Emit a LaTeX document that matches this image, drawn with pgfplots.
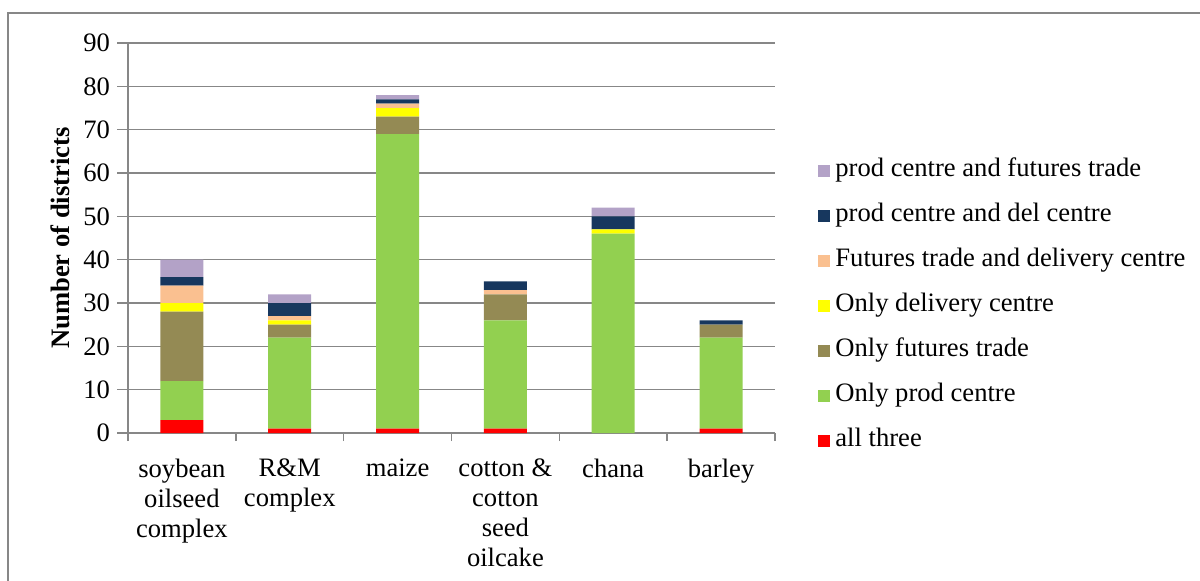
\documentclass[border=0pt]{standalone}
\usepackage{fontspec}
\setmainfont{Liberation Serif}
\usepackage{pgfplots}
\usepackage{pgfplotstable}
\pgfplotsset{compat=1.18}

\definecolor{cAll}{HTML}{FF0000}
\definecolor{cProd}{HTML}{92D050}
\definecolor{cFut}{HTML}{948A54}
\definecolor{cDel}{HTML}{FFFF00}
\definecolor{cFutDel}{HTML}{FAC090}
\definecolor{cProdDel}{HTML}{17375E}
\definecolor{cProdFut}{HTML}{B3A2C7}
\definecolor{frame}{HTML}{878787}

% columns: all three, only prod, only futures, only delivery,
% futures+delivery, prod+del, prod+futures
\pgfplotstableread{
x all prod fut del futdel proddel prodfut
0 3 9  16 2 4 2 4
1 1 21 3  1 1 3 2
2 1 68 4  2 1 1 1
3 1 25 6  0 1 2 0
4 0 46 0  1 0 3 2
5 1 21 3  0 0 1 0
}\districts

\begin{document}
\begin{tikzpicture}
\useasboundingbox (0,0) rectangle (600pt,290pt);
\clip (0,0) rectangle (600pt,290pt);
\draw[frame, line width=0.75pt] (4pt,-5pt) -- (4pt,283.5pt) -- (605pt,283.5pt);
\begin{axis}[
  at={(64pt,73.5pt)}, anchor=south west,
  scale only axis,
  width=323.5pt, height=195pt,
  ybar stacked,
  bar width=21.5pt,
  xmin=-0.5, xmax=5.5,
  ymin=0, ymax=90,
  ytick={0,10,...,90},
  xtick={0,...,5},
  xticklabels={{soybean\\oilseed\\complex},{R\&M\\complex},maize,{cotton \&\\cotton\\seed\\oilcake},chana,barley},
  minor xtick={-0.5,0.5,...,5.5},
  major x tick style={draw=none},
  tick align=outside,
  major tick length=5.5pt,
  minor tick length=4pt,
  tick style={frame, line width=0.75pt},
  axis x line*=bottom,
  axis y line*=left,
  axis line style={frame, line width=0.75pt, -},
  ymajorgrids=true,
  grid style={frame, line width=0.75pt},
  font=\fontsize{13.3}{15}\selectfont,
  /pgf/number format/assume math mode=true,
  xticklabel style={align=center, anchor=north, yshift=-4pt},
  ylabel={\bfseries Number of districts},
  every axis y label/.style={at={(axis description cs:-0.105,0.5)}, rotate=90, anchor=center},
  reverse legend,
  legend cell align=left,
  legend image code/.code={\fill[#1] (0pt,-3pt) rectangle (6pt,3pt); \path (8.5pt,0pt);},
  legend style={draw=none, fill=none, at={(1.0665,0.326)}, anchor=west,
    inner sep=0pt, row sep=10.5pt,
    nodes={inner sep=0pt, text height=9pt, text depth=3pt}},
]
\addplot[fill=cAll, draw=none] table[x=x, y=all] {\districts};
\addplot[fill=cProd, draw=none] table[x=x, y=prod] {\districts};
\addplot[fill=cFut, draw=none] table[x=x, y=fut] {\districts};
\addplot[fill=cDel, draw=none] table[x=x, y=del] {\districts};
\addplot[fill=cFutDel, draw=none] table[x=x, y=futdel] {\districts};
\addplot[fill=cProdDel, draw=none] table[x=x, y=proddel] {\districts};
\addplot[fill=cProdFut, draw=none] table[x=x, y=prodfut] {\districts};
\legend{all three, Only prod centre, Only futures trade, Only delivery centre, Futures trade and delivery centre, prod centre and del centre, prod centre and futures trade}
\end{axis}
\end{tikzpicture}
\end{document}
